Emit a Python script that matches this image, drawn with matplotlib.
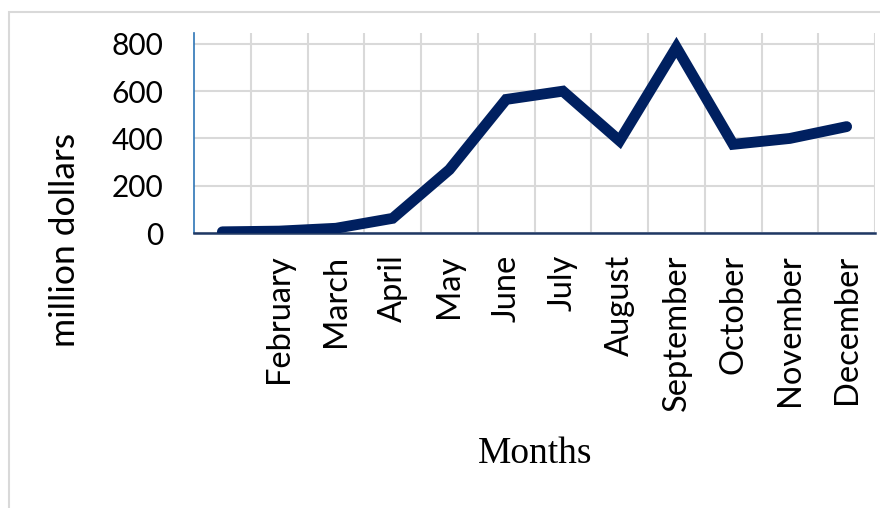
import matplotlib.pyplot as plt
from matplotlib.patches import Rectangle
from matplotlib.ticker import FixedLocator

# Monthly values, million dollars
months = ["January", "February", "March", "April", "May", "June", "July",
          "August", "September", "October", "November", "December"]
tick_labels = [""] + months[1:]  # January has no label on the axis
values = [5, 8, 20, 62, 268, 565, 600, 390, 785, 375, 400, 450]
y_ticks = [0, 200, 400, 600, 800]

W, H = 880, 508
fig = plt.figure(figsize=(W / 100, H / 100), dpi=100)

# light frame around the chart area (runs off the right and bottom edges)
fig.patches.append(Rectangle((9 / W, -0.1), 1.2, 1.1 - 12 / H, transform=fig.transFigure,
                             fill=False, edgecolor="#d9d9d9", linewidth=1.5))

ax = fig.add_axes([194 / W, 1 - 233 / H, 681 / W, 200 / H])

x = list(range(1, len(months) + 1))
ax.plot(x, values, color="#002060", linewidth=7.8, solid_capstyle="round",
        solid_joinstyle="miter", zorder=3)

ax.set_xlim(0.5, len(months) + 0.5)
ax.set_ylim(0, 846)

ax.set_xticks(x)
ax.set_xticklabels(tick_labels, rotation=90, va="top", ha="center",
                   fontsize=23.5, family="Lato")
ax.xaxis.set_minor_locator(FixedLocator([i + 0.5 for i in x]))
ax.set_yticks(y_ticks)
ax.set_yticklabels([str(v) for v in y_ticks], fontsize=21.5, family="Lato")

ax.tick_params(axis="x", which="both", length=0, pad=15.5)
ax.tick_params(axis="y", length=0, pad=22)

ax.grid(axis="y", which="major", color="#d9d9d9", linewidth=1.5)
ax.grid(axis="x", which="minor", color="#d9d9d9", linewidth=1.5)
ax.set_axisbelow(True)

for side in ("top", "right"):
    ax.spines[side].set_visible(False)
ax.spines["left"].set_color("#2e75b6")
ax.spines["left"].set_linewidth(1.2)
ax.spines["bottom"].set_color("#1f3864")
ax.spines["bottom"].set_linewidth(1.8)

fig.text(65 / W, 1 - 240 / H, "million dollars", rotation=90, ha="center",
         va="center", fontsize=25.5, family="Lato")
fig.text(535 / W, 1 - 454 / H, "Months", ha="center", va="center",
         fontsize=27, family="Liberation Serif")

fig.savefig("out.png", dpi=100)
